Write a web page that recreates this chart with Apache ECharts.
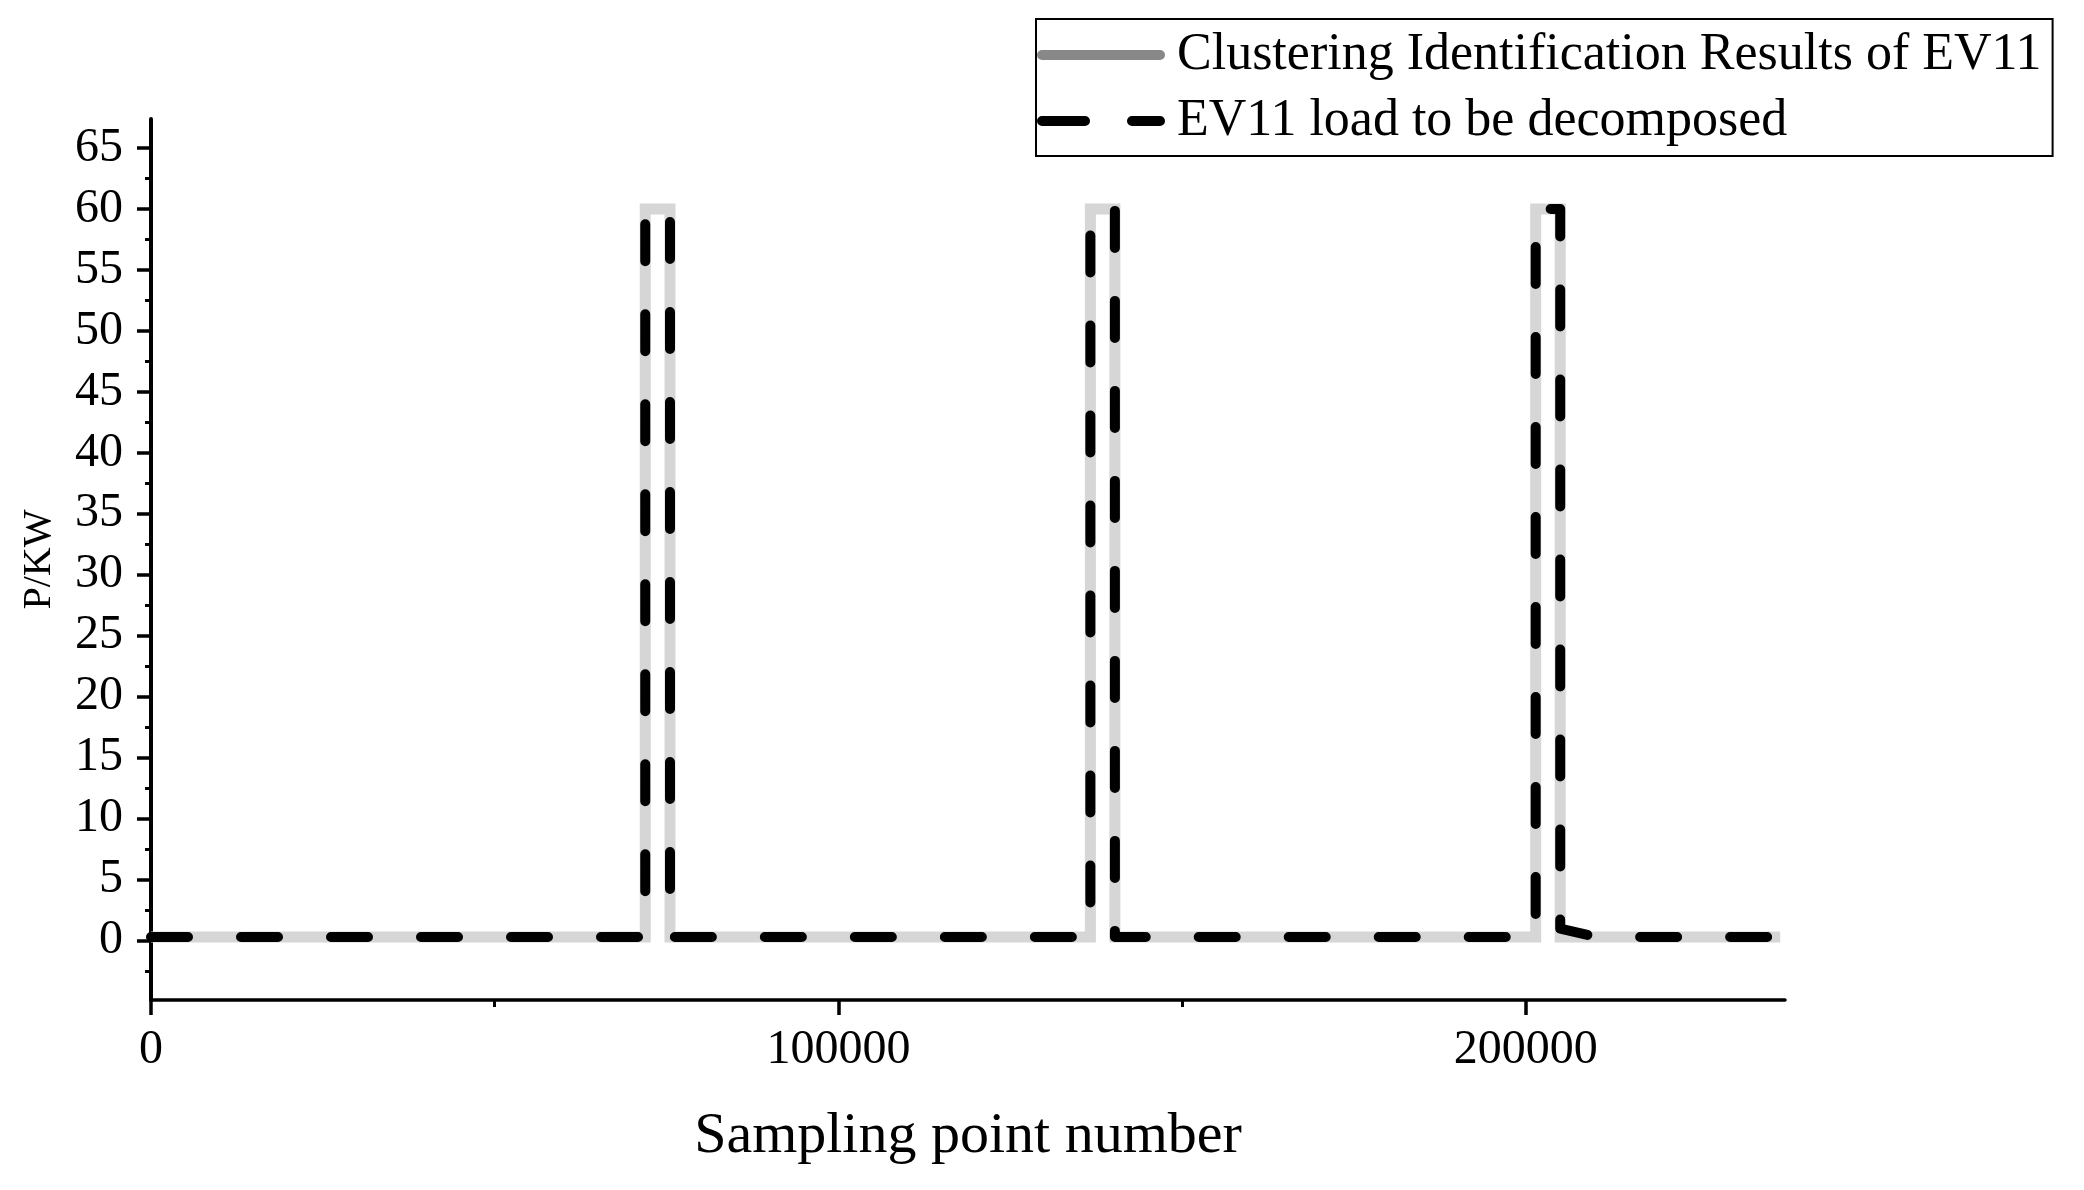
<!DOCTYPE html>
<html>
<head>
<meta charset="utf-8">
<script src="https://cdn.jsdelivr.net/npm/echarts@6/dist/echarts.min.js"></script>
<style>html,body{margin:0;padding:0;background:#fff}#c{width:2084px;height:1190px}</style>
</head>
<body>
<div id="c"></div>
<script>
// ---- data ----
const seriesNames = ['Clustering Identification Results of EV11', 'EV11 load to be decomposed'];
const clusterX = [0, 71900, 71900, 75500, 75500, 136650, 136650, 140220, 140220, 201430, 201430, 205000, 205000, 237000];
const clusterY = [0.3, 0.3, 60, 60, 0.3, 0.3, 60, 60, 0.3, 0.3, 60, 60, 0.3, 0.3];
const loadX = [0, 71900, 71900, 75500, 75500, 136650, 136650, 140220, 140220, 140220, 201430, 201430, 205000, 205000, 210300, 236500];
const loadY = [0.3, 0.3, 60, 60, 0.3, 0.3, 60, 60, 34, 0.3, 0.3, 60, 60, 1.0, 0.3, 0.3];
const xTickValues = [0, 100000, 200000];
const xMinorTickValues = [50000, 150000];
const yTickValues = [0, 5, 10, 15, 20, 25, 30, 35, 40, 45, 50, 55, 60, 65];
const yMinorTickValues = [-2.5, 2.5, 7.5, 12.5, 17.5, 22.5, 27.5, 32.5, 37.5, 42.5, 47.5, 52.5, 57.5, 62.5];
const xTitle = 'Sampling point number';
const yTitle = 'P/KW';

// ---- chart ----
const FONT = "'Times New Roman', 'Liberation Serif', serif";
const X_MIN = 0, X_MAX = 237700, Y_MIN = -4.86, Y_MAX = 67.38;
// legend glyphs (shapes only): solid rounded bar, and two rounded dashes
const ICON_SOLID = 'path://M5,0 H123 A5,5 0 0 1 123,10 H5 A5,5 0 0 1 5,0 Z';
const ICON_DASH = 'path://M5,0 H48 A5,5 0 0 1 48,10 H5 A5,5 0 0 1 5,0 Z M95,0 H123 A5,5 0 0 1 123,10 H95 A5,5 0 0 1 95,0 Z';
const chart = echarts.init(document.getElementById('c'), null, {renderer: 'canvas'});
chart.setOption({
  animation: false,
  backgroundColor: '#fff',
  grid: {left: 151, right: 299, top: 119, bottom: 190},
  legend: {
    orient: 'vertical',
    left: 1036,
    top: 19,
    padding: [10, 11, 9, 1],
    itemGap: 14,
    itemWidth: 128,
    itemHeight: 11,
    borderColor: '#000',
    borderWidth: 2,
    textStyle: {fontSize: 52, fontFamily: FONT, color: '#000', padding: [0, 0, 0, 7]},
    data: [
      {name: seriesNames[0], icon: ICON_SOLID, itemStyle: {color: '#888'}},
      {name: seriesNames[1], icon: ICON_DASH, itemStyle: {color: '#000'}}
    ]
  },
  xAxis: [
    {
      type: 'value', min: X_MIN, max: X_MAX,
      axisLine: {show: true, onZero: false, lineStyle: {color: '#000', width: 3.5}},
      axisTick: {show: true, customValues: xTickValues, length: 15, lineStyle: {color: '#000', width: 3.5}},
      axisLabel: {customValues: xTickValues, formatter: v => String(v), fontSize: 48, fontFamily: FONT, color: '#000', margin: 26},
      splitLine: {show: false},
      name: xTitle, nameLocation: 'middle', nameGap: 108,
      nameTextStyle: {fontSize: 58, fontFamily: FONT, color: '#000'}
    },
    {
      type: 'value', min: X_MIN, max: X_MAX, position: 'bottom', offset: 0,
      axisLine: {show: false, onZero: false},
      axisTick: {show: true, customValues: xMinorTickValues, length: 7, lineStyle: {color: '#000', width: 3}},
      axisLabel: {show: false},
      splitLine: {show: false}
    }
  ],
  yAxis: [
    {
      type: 'value', min: Y_MIN, max: Y_MAX,
      axisLine: {show: true, onZero: false, lineStyle: {color: '#000', width: 4}},
      axisTick: {show: true, customValues: yTickValues, length: 14, lineStyle: {color: '#000', width: 3.5}},
      axisLabel: {customValues: yTickValues, formatter: v => String(v), fontSize: 48, fontFamily: FONT, color: '#000', margin: 28},
      splitLine: {show: false},
      name: yTitle, nameLocation: 'middle', nameGap: 92,
      nameTextStyle: {fontSize: 40, fontFamily: FONT, color: '#000'}
    },
    {
      type: 'value', min: Y_MIN, max: Y_MAX, position: 'left', offset: 0,
      axisLine: {show: false, onZero: false},
      axisTick: {show: true, customValues: yMinorTickValues, length: 6, lineStyle: {color: '#000', width: 3}},
      axisLabel: {show: false},
      splitLine: {show: false}
    }
  ],
  series: [
    {
      type: 'line', name: seriesNames[0], xAxisIndex: 0, yAxisIndex: 0,
      data: clusterX.map((x, i) => [x, clusterY[i]]),
      symbol: 'none', z: 2,
      lineStyle: {color: '#d6d6d6', width: 11, join: 'miter', cap: 'butt'},
      itemStyle: {color: '#888'}
    },
    {
      type: 'line', name: seriesNames[1], xAxisIndex: 0, yAxisIndex: 0,
      data: loadX.map((x, i) => [x, loadY[i]]),
      symbol: 'none', z: 3,
      lineStyle: {color: '#000', width: 10, type: [37, 53], cap: 'round', join: 'round'},
      itemStyle: {color: '#000'}
    }
  ]
});
</script>
</body>
</html>
